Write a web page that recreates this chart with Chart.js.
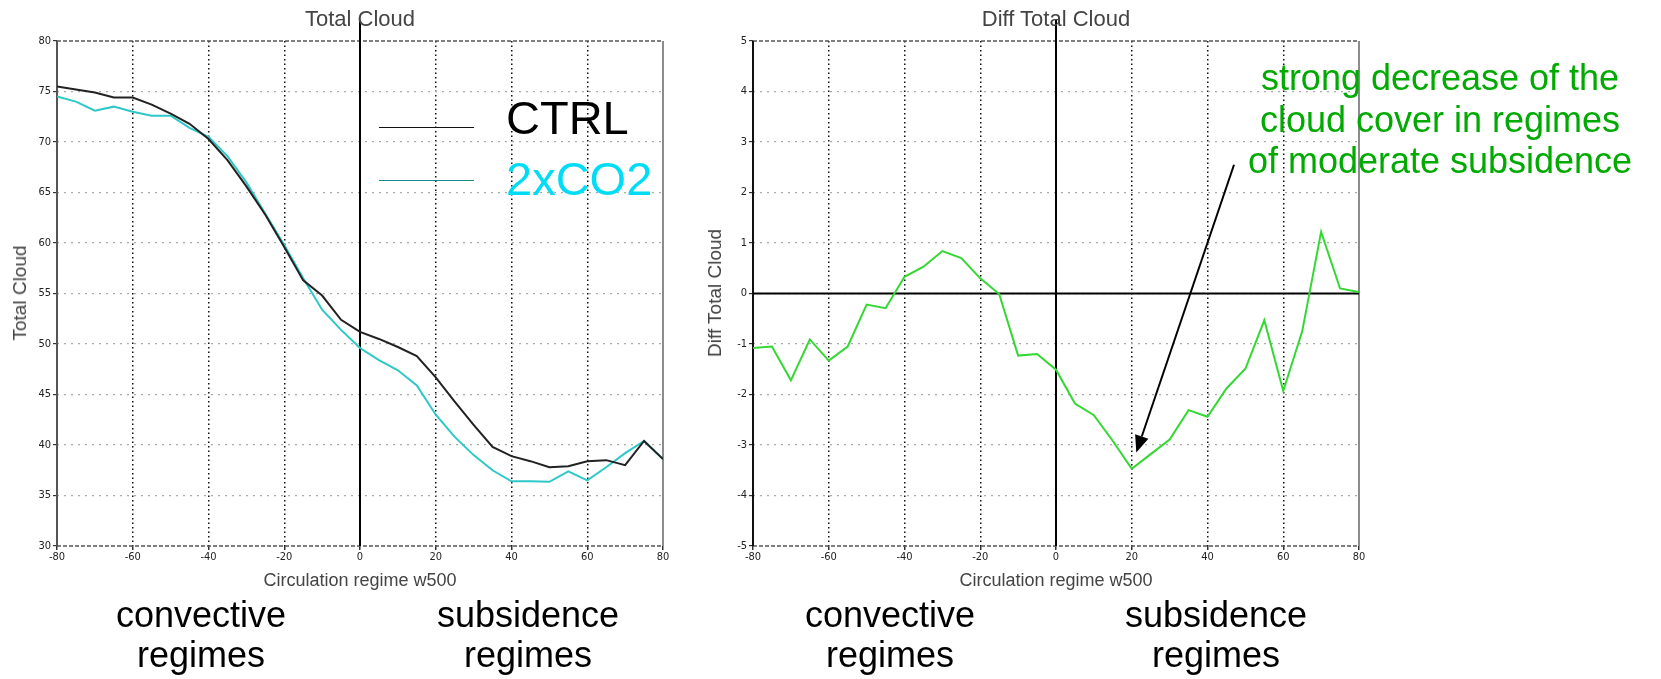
<!DOCTYPE html>
<html>
<head>
<meta charset="utf-8">
<script src="https://cdn.jsdelivr.net/npm/chart.js@4.4.1/dist/chart.umd.min.js"></script>
<style>
  html, body { margin: 0; padding: 0; background: #fff; }
  #page { position: relative; width: 1661px; height: 679px; overflow: hidden; font-family: "Liberation Sans", Arial, sans-serif; }
  canvas { position: absolute; top: 0; }
  .t { position: absolute; white-space: nowrap; }
  .c { transform: translateX(-50%); text-align: center; }
  .title { font-size: 22px; color: #444; line-height: 24px; top: 7px; }
  .xt { font-size: 18px; color: #444; line-height: 20px; top: 570px; }
  .yt { font-size: 19px; color: #444; line-height: 20px; transform: translate(-50%, -50%) rotate(-90deg); }
  .big { font-size: 36px; line-height: 40px; color: #000; top: 595px; }
  .note { font-size: 36px; line-height: 41.5px; color: #00aa00; top: 57px; }
  .leg { font-size: 47px; line-height: 47px; left: 506px; }
  .legline { position: absolute; left: 379px; width: 95px; height: 0; }
</style>
</head>
<body>
<div id="page">
  <canvas id="left" width="700" height="679" style="left:0"></canvas>
  <canvas id="right" width="961" height="679" style="left:700px"></canvas>

  <div class="t c title" style="left:360px">Total Cloud</div>
  <div class="t c title" style="left:1056px">Diff Total Cloud</div>
  <div class="t yt" style="left:20px; top:293px">Total Cloud</div>
  <div class="t yt" style="left:715px; top:293px">Diff Total Cloud</div>
  <div class="t c xt" style="left:360px">Circulation regime w500</div>
  <div class="t c xt" style="left:1056px">Circulation regime w500</div>

  <div class="legline" style="top:127px; border-top:1.5px solid #111"></div>
  <div class="legline" style="top:180px; border-top:1.5px solid #178a8a"></div>
  <div class="t leg" style="top:94px; color:#000">CTRL</div>
  <div class="t leg" style="top:155px; color:#00dcf5">2xCO2</div>

  <div class="t c big" style="left:201px">convective<br>regimes</div>
  <div class="t c big" style="left:528px">subsidence<br>regimes</div>
  <div class="t c big" style="left:890px">convective<br>regimes</div>
  <div class="t c big" style="left:1216px">subsidence<br>regimes</div>

  <div class="t c note" style="left:1440px">strong decrease of the<br>cloud cover in regimes<br>of moderate subsidence</div>
</div>
<script>
// circulation regime (w500) bins
var regime = [-80, -75, -70, -65, -60, -55, -50, -45, -40, -35, -30, -25, -20, -15, -10, -5, 0,
              5, 10, 15, 20, 25, 30, 35, 40, 45, 50, 55, 60, 65, 70, 75, 80];

var ctrlCloud = [75.5, 75.2, 74.9, 74.4, 74.4, 73.7, 72.8, 71.8, 70.3, 68.2, 65.6, 62.8, 59.6, 56.3, 54.8, 52.4, 51.2,
                 50.5, 49.7, 48.8, 46.7, 44.3, 42.0, 39.8, 38.9, 38.4, 37.8, 37.9, 38.4, 38.5, 38.0, 40.4, 38.6];

var co2Cloud = [74.5, 74.0, 73.1, 73.5, 73.0, 72.6, 72.6, 71.4, 70.5, 68.6, 66.0, 62.9, 59.8, 56.5, 53.4, 51.4, 49.6,
                48.4, 47.4, 45.9, 43.0, 40.8, 39.0, 37.5, 36.4, 36.4, 36.35, 37.4, 36.5, 37.8, 39.2, 40.4, 38.6];

var diffCloud = [-1.08, -1.05, -1.72, -0.91, -1.33, -1.05, -0.22, -0.29, 0.33, 0.53, 0.84, 0.70, 0.30, -0.01, -1.23, -1.20, -1.51,
                 -2.18, -2.41, -2.92, -3.47, -3.18, -2.89, -2.31, -2.44, -1.88, -1.49, -0.53, -1.93, -0.75, 1.22, 0.10, 0.03];

var xTickValues = [-80, -60, -40, -20, 0, 20, 40, 60, 80];
var cloudTicks = [30, 35, 40, 45, 50, 55, 60, 65, 70, 75, 80];
var diffTicks = [-5, -4, -3, -2, -1, 0, 1, 2, 3, 4, 5];

// arrow of the annotation, in data units of the right panel
var arrowTail = {x: 47, y: 2.55};
var arrowTip = {x: 21.2, y: -3.15};

function points(ys) {
	var out = [];
	for (var i in regime) {
		out.push({x: regime[i], y: ys[i]});
	}
	return out;
}

function setTicks(values) {
	return function(scale) {
		scale.ticks = values.map(function(v) { return {value: v}; });
	};
}

var tickFont = {family: "'DejaVu Sans Condensed', 'Liberation Sans Narrow', 'Liberation Sans', Arial", size: 11};

function scales(yMin, yMax, yTicks, yWidth) {
	return {
		x: {
			type: 'linear', min: -80, max: 80,
			afterBuildTicks: setTicks(xTickValues),
			afterFit: function(s) { s.height = 133; },
			ticks: {color: '#222', font: tickFont, padding: 1, maxRotation: 0},
			grid: {
				color: function(c) { return (c.tick && Math.abs(c.tick.value) === 80) ? 'rgba(0,0,0,0)' : '#111'; },
				lineWidth: 1.5, tickLength: 4, tickColor: '#333'
			},
			border: {display: false, dash: [1.5, 3]}
		},
		y: {
			type: 'linear', min: yMin, max: yMax,
			afterBuildTicks: setTicks(yTicks),
			afterFit: function(s) { s.width = yWidth; },
			ticks: {color: '#222', font: tickFont, padding: 2},
			grid: {
				color: function(c) { return (c.tick && (c.tick.value === yMin || c.tick.value === yMax)) ? 'rgba(0,0,0,0)' : '#aaa'; },
				lineWidth: 1.2, tickLength: 4, tickColor: '#333'
			},
			border: {display: false, dash: [2, 5]}
		}
	};
}

function framePlugin(leftColor, zeroLine) {
	return {
		id: 'frame',
		beforeDatasetsDraw: function(chart) {
			var a = chart.chartArea, ctx = chart.ctx;
			var x0 = chart.scales.x.getPixelForValue(0);
			function line(x1, y1, x2, y2) { ctx.beginPath(); ctx.moveTo(x1, y1); ctx.lineTo(x2, y2); ctx.stroke(); }
			ctx.save();
			ctx.strokeStyle = '#555'; ctx.lineWidth = 1.5; ctx.setLineDash([4, 2]);
			line(a.left, a.top, a.right, a.top);
			line(a.left, a.bottom, a.right, a.bottom);
			ctx.setLineDash([]);
			ctx.strokeStyle = leftColor; ctx.lineWidth = 2;
			line(a.left, a.top, a.left, a.bottom);
			ctx.strokeStyle = '#666'; ctx.lineWidth = 1.5;
			line(a.right, a.top, a.right, a.bottom);
			ctx.strokeStyle = '#000'; ctx.lineWidth = 2;
			line(x0, 20, x0, a.bottom);
			if (zeroLine) {
				var y0 = chart.scales.y.getPixelForValue(0);
				line(a.left, y0, a.right, y0);
			}
			ctx.restore();
		}
	};
}

var arrowPlugin = {
	id: 'arrow',
	afterDatasetsDraw: function(chart) {
		var ctx = chart.ctx, sx = chart.scales.x, sy = chart.scales.y;
		var x1 = sx.getPixelForValue(arrowTail.x), y1 = sy.getPixelForValue(arrowTail.y);
		var x2 = sx.getPixelForValue(arrowTip.x), y2 = sy.getPixelForValue(arrowTip.y);
		var ang = Math.atan2(y2 - y1, x2 - x1), len = 17, half = 7;
		var bx = x2 - len * Math.cos(ang), by = y2 - len * Math.sin(ang);
		ctx.save();
		ctx.strokeStyle = '#000'; ctx.fillStyle = '#000'; ctx.lineWidth = 2;
		ctx.beginPath(); ctx.moveTo(x1, y1); ctx.lineTo(bx, by); ctx.stroke();
		ctx.beginPath();
		ctx.moveTo(x2, y2);
		ctx.lineTo(bx + half * Math.sin(ang), by - half * Math.cos(ang));
		ctx.lineTo(bx - half * Math.sin(ang), by + half * Math.cos(ang));
		ctx.closePath(); ctx.fill();
		ctx.restore();
	}
};

var common = {
	responsive: false, animation: false, devicePixelRatio: 1,
	plugins: {legend: {display: false}, tooltip: {enabled: false}},
	elements: {point: {radius: 0}, line: {tension: 0, borderWidth: 2}}
};

new Chart(document.getElementById('left'), {
	type: 'line',
	data: {
		datasets: [
			{label: 'CTRL', data: points(ctrlCloud), borderColor: '#222'},
			{label: '2xCO2', data: points(co2Cloud), borderColor: '#2ec8c8'}
		]
	},
	options: Object.assign({}, common, {
		layout: {padding: {left: 0, top: 41, right: 37, bottom: 0}},
		scales: scales(30, 80, cloudTicks, 57)
	}),
	plugins: [framePlugin('#555', false)]
});

new Chart(document.getElementById('right'), {
	type: 'line',
	data: {
		datasets: [
			{label: 'Diff Total Cloud', data: points(diffCloud), borderColor: '#33d833'}
		]
	},
	options: Object.assign({}, common, {
		layout: {padding: {left: 0, top: 41, right: 302, bottom: 0}},
		scales: scales(-5, 5, diffTicks, 53)
	}),
	plugins: [framePlugin('#111', true), arrowPlugin]
});
</script>
</body>
</html>
